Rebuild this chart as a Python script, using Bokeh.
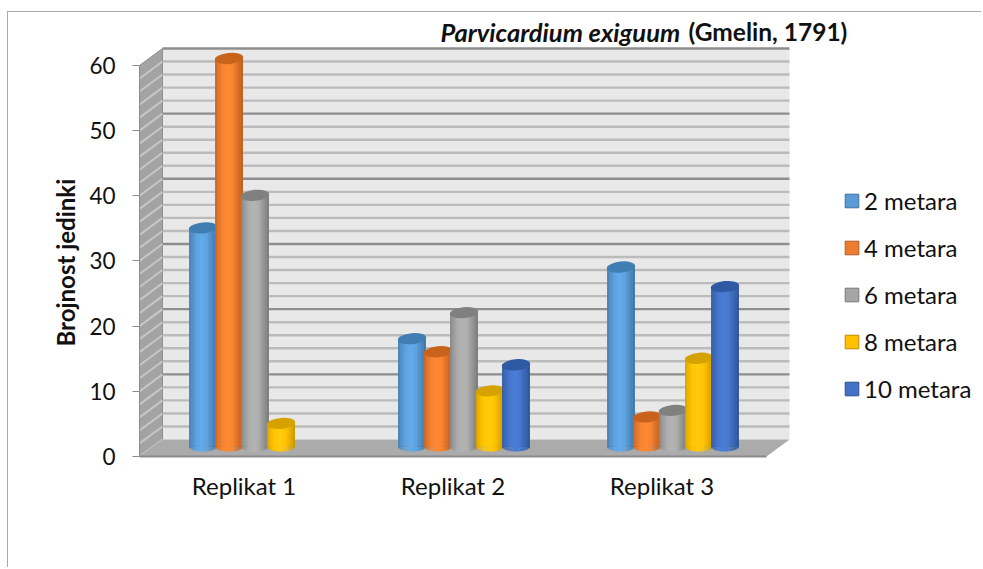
from bokeh.plotting import figure
from bokeh.models import Range1d, FixedTicker, Label, Legend, LegendItem, Title
from bokeh.embed import file_html
from bokeh.resources import INLINE

# ---- data
categories = ["Replikat 1", "Replikat 2", "Replikat 3"]
series_names = ["2 metara", "4 metara", "6 metara", "8 metara", "10 metara"]
m2 = [34, 17, 28]
m4 = [60, 15, 5]
m6 = [39, 21, 6]
m8 = [4, 9, 14]
m10 = [0, 13, 25]
y_ticks = [0, 10, 20, 30, 40, 50, 60]
grid_values = list(range(2, 62, 2))

# ---- style
all_series = [m2, m4, m6, m8, m10]
base_cols = ["#5B9BD5", "#ED7D31", "#A5A5A5", "#FFC000", "#4472C4"]
light_cols = ["#62ABEA", "#FF8A32", "#B4B4B4", "#FFCB0A", "#4A7DD6"]
dark_cols = ["#3A72A3", "#B85A1A", "#757575", "#C49400", "#2B5296"]
top_cols = ["#3F7DB3", "#C9621B", "#808080", "#D6A200", "#2F5AA3"]
leg_edge = ["#41719C", "#AE5A21", "#787878", "#BC8C00", "#2F528F"]

PXX = 209.0      # px per category
PXY = 6.517      # px per unit
DX = 23 / PXX    # depth of the box
DY = 17 / PXY
STEP = 26 / PXX
BW = 27.5 / PXX
BASE_TOP = 7 / PXY
BASE_BOT = 10 / PXY
SHIFT = 11 / PXX
FRAME_W = 843
FRAME_H = 445
Y0 = -2 / PXY


def mix(a, b, t):
    ca = [int(a[i:i + 2], 16) for i in (1, 3, 5)]
    cb = [int(b[i:i + 2], 16) for i in (1, 3, 5)]
    return "#%02x%02x%02x" % tuple(round(x + (y - x) * t) for x, y in zip(ca, cb))


p = figure(
    width=974, height=556, output_backend="svg", toolbar_location=None,
    x_range=Range1d(0, FRAME_W / PXX), y_range=Range1d(Y0, Y0 + FRAME_H / PXY),
    min_border_left=131, min_border_right=0, min_border_top=1, min_border_bottom=110,
    outline_line_color=None, background_fill_color="white", border_fill_color="white",
)
p.styles = {"border-left": "1px solid #a9a9a9", "border-top": "1px solid #a9a9a9",
            "margin-top": "11px", "margin-left": "7px"}
p.grid.visible = False

xa = p.xaxis[0]
xa.ticker = FixedTicker(ticks=[i + 0.5 for i in range(len(categories))])
xa.major_label_overrides = {i + 0.5: c for i, c in enumerate(categories)}
xa.axis_line_color = None
xa.major_tick_line_color = None
xa.minor_tick_line_color = None
xa.major_label_text_font = "Lato"
xa.major_label_text_font_size = "24px"
xa.major_label_text_color = "#111111"
xa.major_label_standoff = 6

ya = p.yaxis[0]
ya.ticker = FixedTicker(ticks=y_ticks)
ya.bounds = (0, 60)
ya.axis_line_color = "#8c8c8c"
ya.major_tick_line_color = "#8c8c8c"
ya.major_tick_out = 7
ya.major_tick_in = 0
ya.minor_tick_line_color = None
ya.major_label_text_font = "Lato"
ya.major_label_text_font_size = "22.5px"
ya.major_label_text_color = "#111111"
ya.major_label_standoff = 17

# y-axis caption, lifted off the frame centre like the reference
p.add_layout(Title(text="Brojnost jedinki", align="left", offset=112, standoff=14,
                   text_font="Lato", text_font_style="bold", text_font_size="24px",
                   text_color="#111111"), "left")

# ---- box: back wall, side wall, floor
xr_end = 3 + DX
p.quad(left=[DX], right=[xr_end], bottom=[DY], top=[60 + DY], fill_color="#E8E8E8", line_color=None)
p.segment(x0=[DX] * len(grid_values), x1=[xr_end] * len(grid_values),
          y0=[v + DY for v in grid_values], y1=[v + DY for v in grid_values],
          line_color=["#8E8E8E" if v % 10 == 0 else "#BBBBBB" for v in grid_values], line_width=2.4)
p.patch(x=[0, DX, DX, 0], y=[0, DY, 60 + DY, 60], fill_color="#A3A3A3", line_color="#8F8F8F", line_width=1)
p.segment(x0=[0] * len(grid_values), x1=[DX] * len(grid_values),
          y0=[v - 2 for v in grid_values], y1=[v - 2 + DY for v in grid_values],
          line_color="#CFCFCF", line_width=2, line_alpha=0.8)
p.patch(x=[0, 3, xr_end, DX], y=[0, 0, DY, DY], fill_color="#ABABAB", line_color=None)
p.segment(x0=[0], x1=[3], y0=[0], y1=[0], line_color="#8A8A8A", line_width=2)

# ---- cylinders
N = 13
legend_items = []
for s, (name, vals) in enumerate(zip(series_names, all_series)):
    xs = [i + 0.5 + (s - 2) * STEP + SHIFT for i in range(len(vals)) if vals[i] > 0]
    tops = [v + BASE_TOP for v in vals if v > 0]
    r = p.vbar(x=xs, top=tops, bottom=BASE_BOT, width=BW * 0.96, fill_color=base_cols[s],
               line_color=leg_edge[s], line_width=1)
    legend_items.append(LegendItem(label=name, renderers=[r]))
    L, R, B, T, C = [], [], [], [], []
    for x, t in zip(xs, tops):
        for k in range(N):
            u0 = -1 + 2 * k / N
            u1 = -1 + 2 * (k + 1) / N
            um = (u0 + u1) / 2
            L.append(x + u0 * BW / 2)
            R.append(x + u1 * BW / 2)
            B.append(BASE_BOT - (5 / PXY) * (1 - um * um) ** 0.5)
            T.append(t)
            # dark at the edges, brightest a little left of the middle
            d = abs(um + 0.1)
            if d < 0.45:
                col = mix(light_cols[s], base_cols[s], d / 0.45 * 0.5)
            else:
                col = mix(base_cols[s], dark_cols[s], ((d - 0.45) / 0.65) ** 1.2)
            C.append(col)
    p.quad(left=L, right=R, bottom=B, top=T, fill_color=C, line_color=None)
    p.ellipse(x=xs, y=tops, width=28.5, height=11, width_units="screen", height_units="screen",
              angle=0.1, fill_color=top_cols[s], line_color=None)

legend = Legend(items=legend_items, location=(704, 55), orientation="vertical",
                background_fill_alpha=0, border_line_color=None, padding=0, margin=0,
                glyph_width=17, glyph_height=17, label_height=20, spacing=18,
                label_standoff=4, label_text_font="Lato", label_text_font_size="24px",
                label_text_color="#111111")
p.add_layout(legend)

p.add_layout(Label(x=(441 - 140) / PXX, y=(455 - 30) / PXY, text="Parvicardium exiguum",
                   text_font="Lato", text_font_style="bold italic", text_font_size="25.5px",
                   text_baseline="middle", text_color="#111111"))
p.add_layout(Label(x=(689 - 140) / PXX, y=(455 - 30) / PXY, text="(Gmelin, 1791)",
                   text_font="Lato", text_font_style="bold", text_font_size="24.5px",
                   text_baseline="middle", text_color="#111111"))

open("out.html", "w").write(file_html(p, INLINE))
